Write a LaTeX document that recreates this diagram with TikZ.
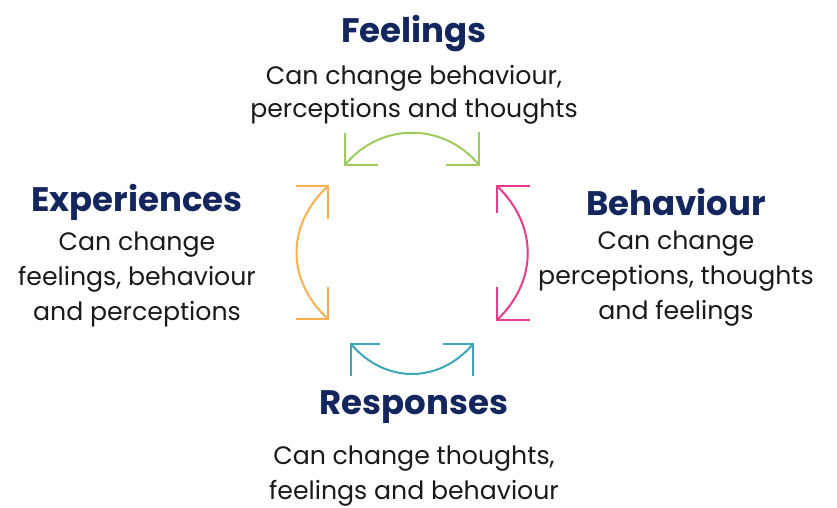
\documentclass[tikz,border=0pt]{standalone}
\usepackage{fontspec}
\setmainfont{Poppins}
\newfontfamily\titlefont{Poppins}[UprightFont=* Bold]
\definecolor{navy}{HTML}{13275E}
\definecolor{cgreen}{HTML}{9DCB5C}
\definecolor{corange}{HTML}{F8B14E}
\definecolor{cpink}{HTML}{E63C8C}
\definecolor{cteal}{HTML}{3BA7B7}
\definecolor{ctext}{HTML}{1A1A1A}
\tikzset{
  ttl/.style={font=\titlefont\fontsize{34}{38}\selectfont, text=navy, inner sep=0pt},
  body/.style={font=\fontsize{25.2}{35}\selectfont, text=ctext, align=center, inner sep=0pt},
  cyc/.style={line width=2pt, line cap=butt}
}
\begin{document}
\begin{tikzpicture}[x=1pt,y=-1pt]
\useasboundingbox (0,0) rectangle (837,508);
% titles
\node[ttl] (tf) at (414,34) {Feelings};
\node[ttl] (te) at (137,202) {Experiences};
\node[ttl] (tb) at (676,202) {Behaviour};
\node[ttl] (tr) at (414,407) {Responses};
% bodies
\node[body, font=\fontsize{25.2}{33}\selectfont] (bf) at (414,94.5) {Can change behaviour,\\perceptions and thoughts};
\node[body] (be) at (137,279) {Can change\\feelings, behaviour\\and perceptions};
\node[body] (bb) at (676,279) {Can change\\perceptions, thoughts\\and feelings};
\node[body] (br) at (414,476) {Can change thoughts,\\feelings and behaviour};
% green (top)
\coordinate (g1) at (345,165);
\coordinate (g2) at (479,165);
\draw[cyc, cgreen] (345,133) -- (g1) -- (378,165);
\draw[cyc, cgreen] (479,132) -- (g2) -- (446,165);
\draw[cyc, cgreen] (g1) .. controls (380,122) and (444,122) .. (g2);
% orange (left)
\coordinate (o1) at (328,186);
\coordinate (o2) at (328,319);
\draw[cyc, corange] (296,186) -- (o1) -- (328,219);
\draw[cyc, corange] (296,319) -- (o2) -- (328,287);
\draw[cyc, corange] (o1) .. controls (286,225) and (286,280) .. (o2);
% pink (right)
\coordinate (p1) at (497,186);
\coordinate (p2) at (497,320);
\draw[cyc, cpink] (530,186) -- (p1) -- (497,213);
\draw[cyc, cpink] (530,320) -- (p2) -- (497,287);
\draw[cyc, cpink] (p1) .. controls (538,225) and (538,281) .. (p2);
% teal (bottom)
\coordinate (t1) at (351,344);
\coordinate (t2) at (473,344);
\draw[cyc, cteal] (351,376) -- (t1) -- (380,344);
\draw[cyc, cteal] (473,376) -- (t2) -- (443,344);
\draw[cyc, cteal] (t1) .. controls (385,384) and (439,384) .. (t2);
\end{tikzpicture}
\end{document}
